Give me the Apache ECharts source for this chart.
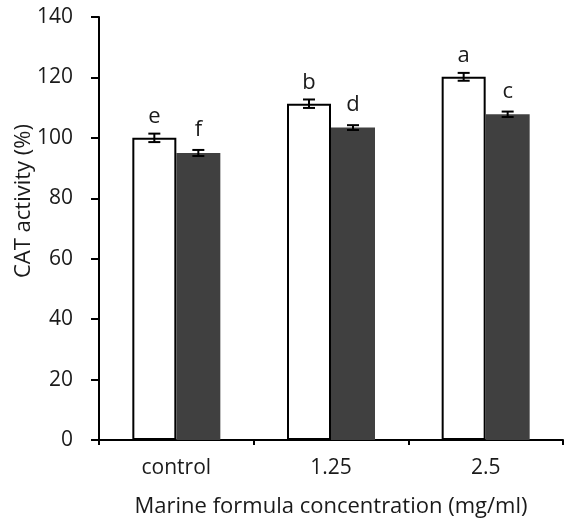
<!DOCTYPE html>
<html>
<head>
<meta charset="utf-8">
<script src="https://cdn.jsdelivr.net/npm/echarts@6/dist/echarts.min.js"></script>
<style>
html, body { margin: 0; padding: 0; background: #fff; }
#main { width: 568px; height: 521px; }
</style>
</head>
<body>
<div id="main"></div>
<script>
var categories = ['control', '1.25', '2.5'];
var whiteValues = [100, 111.3, 120.2];
var whiteErrors = [1.4, 1.4, 1.3];
var whiteLetters = ['e', 'b', 'a'];
var darkValues = [95, 103.4, 107.8];
var darkErrors = [1.0, 0.8, 0.9];
var darkLetters = ['f', 'd', 'c'];
var yTicks = [0, 20, 40, 60, 80, 100, 120, 140];

var fontName = '"Open Sans", Lato, sans-serif';
var textColor = '#1a1a1a';

function errorItem(values, errors) {
	var out = [];
	for (var i = 0; i < values.length; i++) {
		out.push([i, values[i] - errors[i], values[i] + errors[i]]);
	}
	return out;
}

// 误差线, offset 为柱子在类目中的偏移比例
function errorRender(offset) {
	return function(params, api) {
		var lo = api.coord([api.value(0), api.value(1)]);
		var hi = api.coord([api.value(0), api.value(2)]);
		var bw = api.size([1, 0])[0];
		var x = lo[0] + bw * offset;
		var cap = 6;
		var st = { stroke: '#000', lineWidth: 2 };
		return {
			type: 'group',
			children: [
				{ type: 'line', shape: { x1: x, y1: lo[1], x2: x, y2: hi[1] }, style: st },
				{ type: 'line', shape: { x1: x - cap, y1: lo[1], x2: x + cap, y2: lo[1] }, style: st },
				{ type: 'line', shape: { x1: x - cap, y1: hi[1], x2: x + cap, y2: hi[1] }, style: st }
			]
		};
	};
}

var chart = echarts.init(document.getElementById('main'));
var option = {
	animation: false,
	backgroundColor: '#fff',
	grid: { left: 99, right: 5, top: 17, bottom: 81, containLabel: false, outerBoundsMode: 'none' },
	xAxis: {
		type: 'category',
		data: categories,
		name: 'Marine formula concentration (mg/ml)',
		nameLocation: 'middle',
		nameGap: 56,
		nameTextStyle: { color: textColor, fontSize: 22, fontFamily: fontName },
		axisLine: { lineStyle: { color: '#000', width: 2 } },
		axisTick: { show: true, length: 5, lineStyle: { color: '#000', width: 2 } },
		axisLabel: { color: textColor, fontSize: 21, fontFamily: fontName, margin: 18 }
	},
	yAxis: {
		type: 'value',
		min: 0,
		max: 140,
		interval: 20,
		axisLine: { show: true, lineStyle: { color: '#000', width: 2 } },
		axisTick: { show: true, length: 8, lineStyle: { color: '#000', width: 2 } },
		axisLabel: {
			color: textColor, fontSize: 21, fontFamily: fontName, margin: 26,
			formatter: function(v) { return yTicks.indexOf(v) >= 0 ? String(v) : ''; }
		},
		splitLine: { show: false }
	},
	graphic: [{
		type: 'text',
		x: 24,
		y: 201,
		rotation: Math.PI / 2,
		style: {
			text: 'CAT activity (%)',
			fill: textColor,
			font: '22px ' + fontName,
			textAlign: 'center',
			textVerticalAlign: 'middle'
		}
	}],
	series: [
		{
			type: 'bar',
			data: whiteValues,
			barWidth: 44,
			barGap: '0%',
			itemStyle: { color: '#fff', borderColor: '#000', borderWidth: 2 },
			label: {
				show: true, position: 'top', distance: 10,
				color: textColor, fontSize: 22, fontFamily: fontName,
				formatter: function(p) { return whiteLetters[p.dataIndex]; }
			}
		},
		{
			type: 'bar',
			data: darkValues,
			barWidth: 44,
			barGap: '0%',
			itemStyle: { color: '#404040' },
			label: {
				show: true, position: 'top', distance: 12,
				color: textColor, fontSize: 22, fontFamily: fontName,
				formatter: function(p) { return darkLetters[p.dataIndex]; }
			}
		},
		{
			type: 'custom',
			renderItem: errorRender(-44 / 154.67 / 2),
			data: errorItem(whiteValues, whiteErrors),
			z: 10
		},
		{
			type: 'custom',
			renderItem: errorRender(44 / 154.67 / 2),
			data: errorItem(darkValues, darkErrors),
			z: 10
		}
	]
};
chart.setOption(option);
</script>
</body>
</html>
